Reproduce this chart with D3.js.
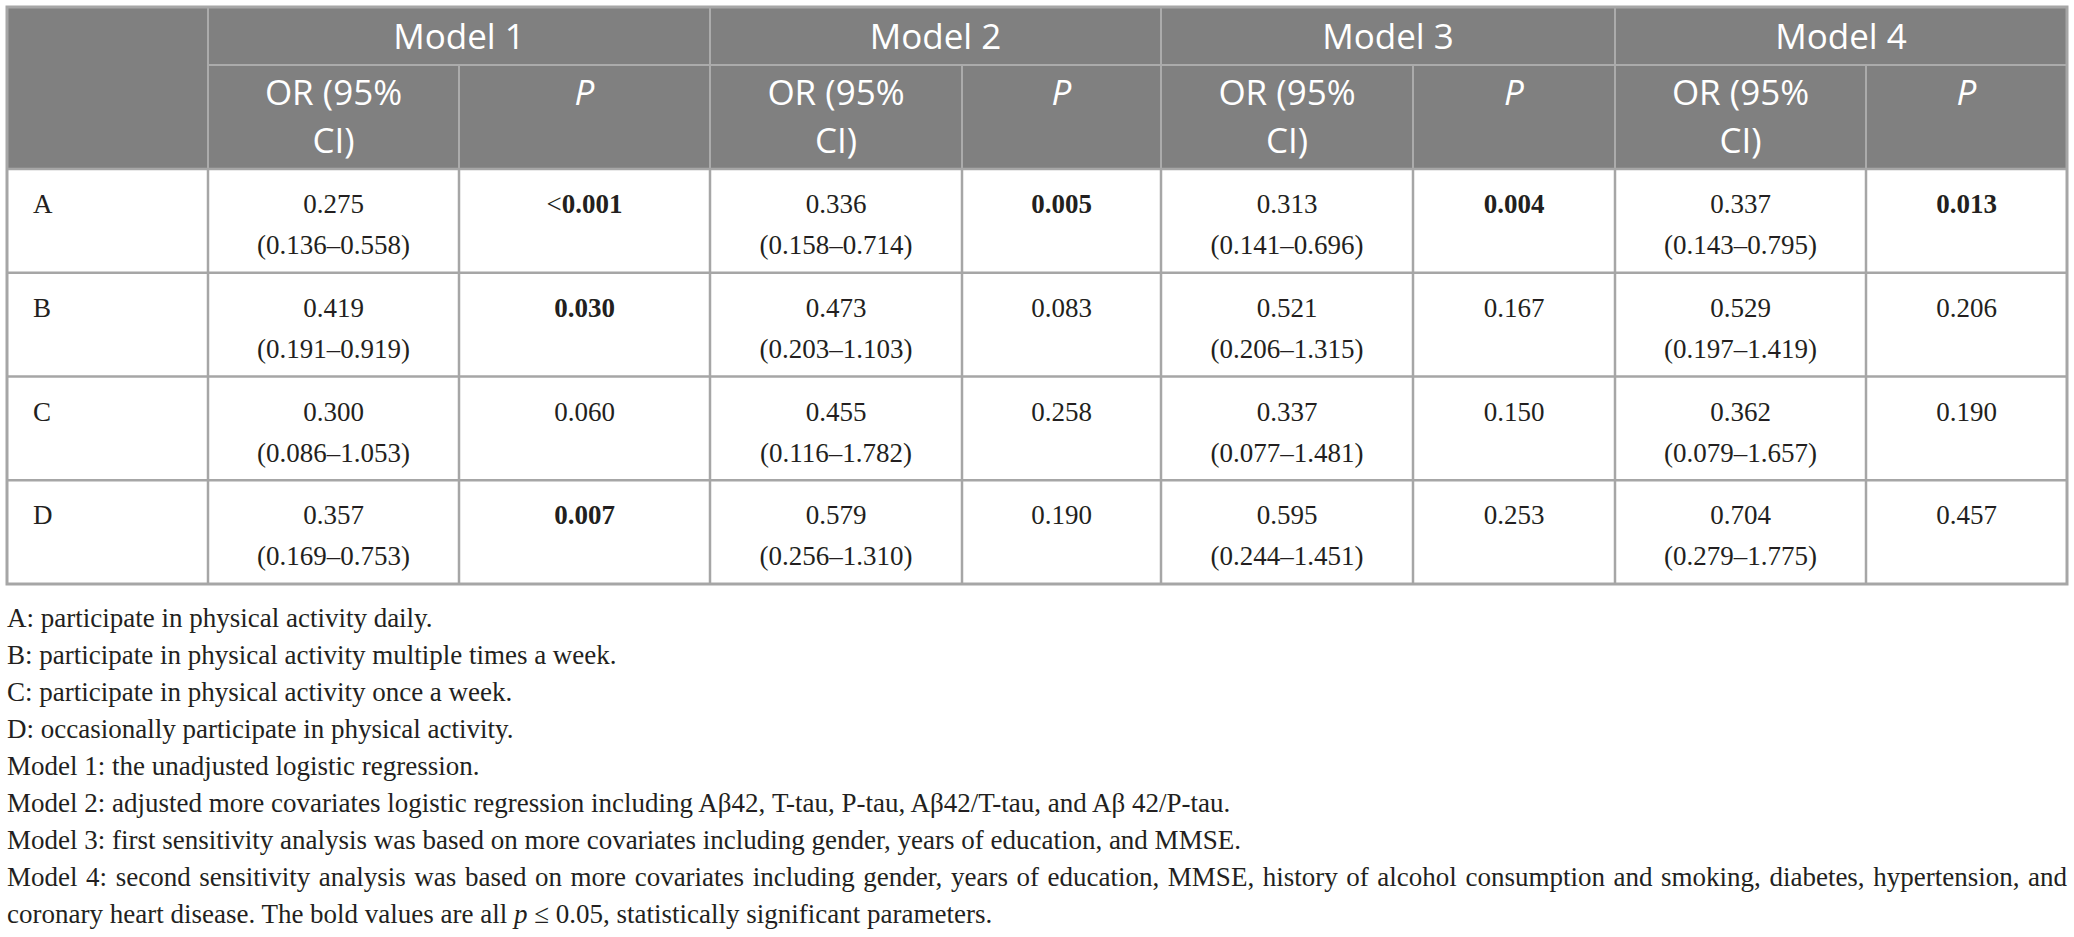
<!DOCTYPE html>
<html>
<head>
<meta charset="utf-8">
<script src="https://cdn.jsdelivr.net/npm/d3@7"></script>
<style>
  html, body { margin: 0; padding: 0; background: #fff; }
  svg { display: block; }
</style>
</head>
<body>
<svg id="chart" width="2074" height="937"></svg>
<script>
// table values, one inner array per model (rows A..D)
var groups = ['A', 'B', 'C', 'D'];
var models = ['Model 1', 'Model 2', 'Model 3', 'Model 4'];
var orValues = [
  [0.275, 0.419, 0.300, 0.357],
  [0.336, 0.473, 0.455, 0.579],
  [0.313, 0.521, 0.337, 0.595],
  [0.337, 0.529, 0.362, 0.704]
];
var ciLower = [
  [0.136, 0.191, 0.086, 0.169],
  [0.158, 0.203, 0.116, 0.256],
  [0.141, 0.206, 0.077, 0.244],
  [0.143, 0.197, 0.079, 0.279]
];
var ciUpper = [
  [0.558, 0.919, 1.053, 0.753],
  [0.714, 1.103, 1.782, 1.310],
  [0.696, 1.315, 1.481, 1.451],
  [0.795, 1.419, 1.657, 1.775]
];
var pLabels = [
  ['<0.001', '0.030', '0.060', '0.007'],
  ['0.005', '0.083', '0.258', '0.190'],
  ['0.004', '0.167', '0.150', '0.253'],
  ['0.013', '0.206', '0.190', '0.457']
];
var footnotes = [
  'A: participate in physical activity daily.',
  'B: participate in physical activity multiple times a week.',
  'C: participate in physical activity once a week.',
  'D: occasionally participate in physical activity.',
  'Model 1: the unadjusted logistic regression.',
  'Model 2: adjusted more covariates logistic regression including A\u03b242, T-tau, P-tau, A\u03b242/T-tau, and A\u03b2 42/P-tau.',
  'Model 3: first sensitivity analysis was based on more covariates including gender, years of education, and MMSE.',
  'Model 4: second sensitivity analysis was based on more covariates including gender, years of education, MMSE, history of alcohol consumption and smoking, diabetes, hypertension, and'
];

// layout
var tLeft = 7, tTop = 7;
var colWidths = [201, 251, 251, 252, 199, 252, 202, 251, 201];
var edges = [tLeft].concat(Array.from(d3.cumsum(colWidths), function (w) { return tLeft + w; }));
var tRight = edges[edges.length - 1];
var head1Bottom = 65, head2Bottom = 169, tableBottom = 584;

var serif = '"Liberation Serif", "Times New Roman", serif';
var sans = '"Open Sans", "Noto Sans", sans-serif';
var ink = '#231f20';
var gridColor = '#a6a6a6';

var svg = d3.select('#chart');
var fmt = d3.format('.3f');

var y = d3.scaleBand().domain(groups).range([head2Bottom, tableBottom]);

// header background
svg.append('rect')
  .attr('x', tLeft).attr('y', tTop)
  .attr('width', tRight - tLeft).attr('height', head2Bottom - tTop)
  .attr('fill', '#808080');

// model columns: OR col index = 1 + 2*m, P col = 2 + 2*m
var colCenter = function (c) { return (edges[c] + edges[c + 1]) / 2; };

var header = svg.append('g').attr('fill', '#fff').attr('font-family', sans)
  .attr('font-size', 35).attr('text-anchor', 'middle');

header.selectAll('.modelTitle')
  .data(models)
  .enter().append('text')
  .attr('class', 'modelTitle')
  .attr('x', function (d, m) { return (edges[1 + 2 * m] + edges[3 + 2 * m]) / 2; })
  .attr('y', 49)
  .text(function (d) { return d; });

models.forEach(function (d, m) {
  var cx = colCenter(1 + 2 * m);
  header.append('text').attr('x', cx).attr('y', 105).text('OR (95%');
  header.append('text').attr('x', cx).attr('y', 153).text('CI)');
  header.append('text').attr('x', colCenter(2 + 2 * m)).attr('y', 105)
    .attr('font-style', 'italic').text('P');
});

// header inner lines
var headLines = svg.append('g').attr('stroke', '#ababab').attr('stroke-width', 2);
headLines.append('line')
  .attr('x1', edges[1]).attr('x2', tRight)
  .attr('y1', head1Bottom).attr('y2', head1Bottom);
edges.slice(1, -1).forEach(function (x, i) {
  var c = i + 1;
  var isSplit = (c % 2 === 0); // OR|P split only in lower header row
  headLines.append('line')
    .attr('x1', x).attr('x2', x)
    .attr('y1', isSplit ? head1Bottom : tTop).attr('y2', head2Bottom);
});

// body grid
var grid = svg.append('g').attr('stroke', gridColor).attr('stroke-width', 2.5);
groups.forEach(function (g) {
  grid.append('line')
    .attr('x1', tLeft).attr('x2', tRight)
    .attr('y1', y(g)).attr('y2', y(g));
});
edges.slice(1, -1).forEach(function (x) {
  grid.append('line')
    .attr('x1', x).attr('x2', x)
    .attr('y1', head2Bottom).attr('y2', tableBottom);
});
svg.append('rect')
  .attr('x', tLeft).attr('y', tTop)
  .attr('width', tRight - tLeft).attr('height', tableBottom - tTop)
  .attr('fill', 'none').attr('stroke', gridColor).attr('stroke-width', 3);

// body text
var body = svg.append('g').attr('font-family', serif).attr('font-size', 27).attr('fill', ink);

body.selectAll('.rowLabel')
  .data(groups)
  .enter().append('text')
  .attr('class', 'rowLabel')
  .attr('x', 33)
  .attr('y', function (d) { return y(d) + 44; })
  .text(function (d) { return d; });

models.forEach(function (mName, m) {
  groups.forEach(function (g, i) {
    var cx = colCenter(1 + 2 * m);
    body.append('text').attr('text-anchor', 'middle')
      .attr('x', cx).attr('y', y(g) + 44)
      .text(fmt(orValues[m][i]));
    body.append('text').attr('text-anchor', 'middle')
      .attr('x', cx).attr('y', y(g) + 85)
      .text('(' + fmt(ciLower[m][i]) + '\u2013' + fmt(ciUpper[m][i]) + ')');

    var label = pLabels[m][i];
    var num = +label.replace('<', '');
    var p = body.append('text').attr('text-anchor', 'middle')
      .attr('x', colCenter(2 + 2 * m)).attr('y', y(g) + 44);
    if (label.charAt(0) === '<') {
      p.append('tspan').text('<');
      label = label.slice(1);
    }
    p.append('tspan').attr('font-weight', num <= 0.05 ? 'bold' : 'normal').text(label);
  });
});

// footnotes
var notes = svg.append('g').attr('font-family', serif).attr('font-size', 27).attr('fill', ink);
notes.selectAll('.note')
  .data(footnotes)
  .enter().append('text')
  .attr('class', 'note')
  .attr('x', tLeft)
  .attr('y', function (d, i) { return 627 + i * 37; })
  .text(function (d) { return d; });

// justify the long Model 4 line by widening word gaps
var longLine = notes.selectAll('.note').filter(function (d, i) { return i === footnotes.length - 1; });
var natural = longLine.node().getComputedTextLength();
var gaps = footnotes[footnotes.length - 1].split(' ').length - 1;
longLine.attr('word-spacing', Math.max(0, (tRight - tLeft - natural) / gaps));

var last = notes.append('text').attr('x', tLeft).attr('y', 627 + footnotes.length * 37);
last.append('tspan').text('coronary heart disease. The bold values are all ');
last.append('tspan').attr('font-style', 'italic').text('p');
last.append('tspan').text(' \u2264 0.05, statistically significant parameters.');
</script>
</body>
</html>
